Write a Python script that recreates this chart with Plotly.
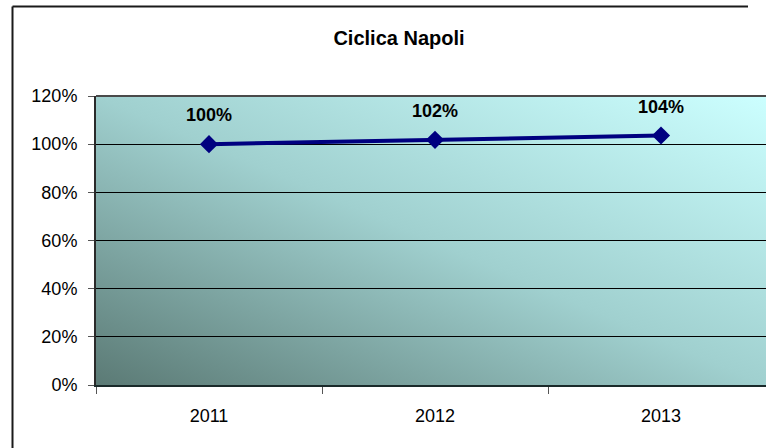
import base64
import plotly.graph_objects as go

# ---- data ----
categories = ["2011", "2012", "2013"]
values = [1.00, 1.018, 1.036]
title_text = "Ciclica Napoli"
y_tickvals = [0, 0.2, 0.4, 0.6, 0.8, 1.0, 1.2]

FONT = "Liberation Sans, Arial, sans-serif"

# ---- gradient background (SVG) ----
svg = (
    '<svg xmlns="http://www.w3.org/2000/svg" width="676" height="289" '
    'viewBox="0 0 676 289" preserveAspectRatio="none">'
    '<defs><linearGradient id="g" x1="0" y1="1" x2="1" y2="0">'
    '<stop offset="0" stop-color="#5B7A75"/>'
    '<stop offset="0.5" stop-color="#A0D0CF"/>'
    '<stop offset="1" stop-color="#CCFFFF"/>'
    '</linearGradient></defs>'
    '<rect x="0" y="0" width="676" height="289" fill="url(#g)"/></svg>'
)
svg_uri = "data:image/svg+xml;base64," + base64.b64encode(svg.encode()).decode()

fig = go.Figure()
fig.add_trace(go.Scatter(
    x=categories, y=values, mode="lines+markers",
    line=dict(color="#000080", width=4),
    marker=dict(symbol="diamond", size=14, color="#000080"),
    hoverinfo="skip", showlegend=False,
))
# data labels (transparent larger markers push the text above the point)
fig.add_trace(go.Scatter(
    x=categories, y=values, mode="markers+text",
    marker=dict(size=28, color="rgba(0,0,0,0)"),
    texttemplate="<b>%{y:.0%}</b>", textposition="top center",
    textfont=dict(family=FONT, size=18, color="#000000"),
    hoverinfo="skip", showlegend=False, cliponaxis=False,
))

L, T, B = 96, 96, 63
W = 766 - L
H = 448 - T - B

def px_x(p):
    return (p - L) / W

def px_y(p):
    return (448 - B - p) / H

fig.update_layout(
    width=766, height=448,
    margin=dict(l=L, r=0, t=T, b=B),
    paper_bgcolor="white",
    plot_bgcolor="rgba(0,0,0,0)",
    font=dict(family=FONT, size=18, color="#000000"),
    title=dict(text=f"<b>{title_text}</b>", x=399 / 766, xref="container",
               y=1 - 38 / 448, yanchor="middle", xanchor="center",
               font=dict(size=20, color="#000000")),
    images=[dict(source=svg_uri, xref="paper", yref="paper", x=0, y=1,
                 sizex=1.0, sizey=1, sizing="stretch", layer="below",
                 xanchor="left", yanchor="top")],
    shapes=[
        # outer chart border: left edge
        dict(type="line", xref="paper", yref="paper",
             x0=px_x(12.5), x1=px_x(12.5), y0=px_y(6.5), y1=px_y(448),
             line=dict(color="#1a1a1a", width=2), layer="above"),
        # outer chart border: top edge
        dict(type="line", xref="paper", yref="paper",
             x0=px_x(12.5), x1=px_x(748), y0=px_y(6.5), y1=px_y(6.5),
             line=dict(color="#1a1a1a", width=2), layer="above"),
        # plot area top border
        dict(type="line", xref="paper", yref="paper", x0=0, x1=1.0, y0=1, y1=1,
             line=dict(color="#4a4a4a", width=2), layer="above"),
    ],
)

fig.update_xaxes(
    type="category", range=[-0.5, -0.5 + W / 226.0],
    tickson="boundaries", ticks="outside", ticklen=7, tickcolor="#555555", tickwidth=1,
    showline=True, linecolor="#1a2a2a", linewidth=2,
    showgrid=False, zeroline=False, ticklabelstandoff=13,
    tickfont=dict(size=18),
)
fig.update_yaxes(
    range=[0, 1.2], tickvals=y_tickvals, tickformat=".0%",
    ticks="outside", ticklen=6, tickcolor="#555555", tickwidth=1,
    showline=True, linecolor="#2a2a2a", linewidth=2,
    showgrid=True, gridcolor="#000000", gridwidth=1, zeroline=False,
    ticklabelstandoff=7, tickfont=dict(size=18),
)

fig.write_html("out.html", config={"displayModeBar": False},
               post_script="document.body.style.margin='0';document.body.style.overflow='hidden';"
                           "document.documentElement.style.overflow='hidden';")
